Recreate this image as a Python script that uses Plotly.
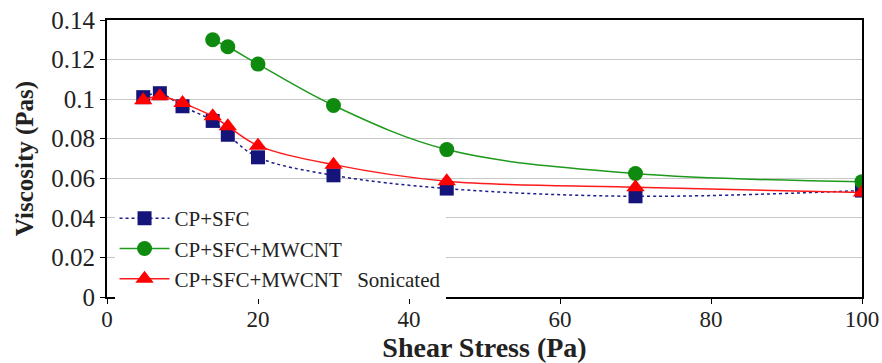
import plotly.graph_objects as go

# Shear stress (Pa) at each measurement
stress_cp = [4.8, 7, 10, 14, 16, 20, 30, 45, 70, 100]
stress_mw = [14, 16, 20, 30, 45, 70, 100]
stress_son = [4.8, 7, 10, 14, 16, 20, 30, 45, 70, 100]

# Viscosity (Pa·s)
visc_cp = [0.101, 0.103, 0.0964, 0.089, 0.082, 0.0706, 0.0615, 0.0548, 0.0509, 0.0538]
visc_mw = [0.130, 0.1265, 0.1177, 0.0968, 0.0745, 0.0624, 0.0583]
visc_son = [0.0995, 0.1015, 0.098, 0.0913, 0.0863, 0.0765, 0.0669, 0.0585, 0.0555, 0.0528]

y_ticks = [0, 0.02, 0.04, 0.06, 0.08, 0.1, 0.12, 0.14]
y_tick_text = ["0", "0.02", "0.04", "0.06", "0.08", "0.1", "0.12", "0.14"]
x_ticks = [0, 20, 40, 60, 80, 100]

SERIF = "Liberation Serif"
INK = "#222222"

fig = go.Figure()
fig.add_trace(go.Scatter(
    x=stress_cp, y=visc_cp, name="CP+SFC", mode="lines+markers",
    line=dict(color="#1c1c8c", width=1.5, dash="dot", shape="spline"),
    marker=dict(symbol="square", size=14, color="#14147a"),
))
fig.add_trace(go.Scatter(
    x=stress_mw, y=visc_mw, name="CP+SFC+MWCNT", mode="lines+markers",
    line=dict(color="#1e9a1e", width=1.5, shape="spline"),
    marker=dict(symbol="circle", size=15, color="#0e8a0e"),
))
fig.add_trace(go.Scatter(
    x=stress_son, y=visc_son, name="CP+SFC+MWCNT   Sonicated", mode="lines+markers",
    line=dict(color="#ff1a1a", width=1.5, shape="spline"),
    marker=dict(symbol="triangle-up", size=16, color="#ff0000"),
))

fig.update_layout(
    width=882, height=363,
    margin=dict(l=107, r=20, t=20, b=66, autoexpand=False),
    paper_bgcolor="white", plot_bgcolor="white",
    font=dict(family=SERIF, size=22, color=INK),
    legend=dict(
        x=0.01, y=0.357, xanchor="left", yanchor="top",
        bgcolor="white", borderwidth=0,
        font=dict(family=SERIF, size=21, color=INK),
        tracegroupgap=0, itemwidth=50,
    ),
    showlegend=True,
)
fig.update_xaxes(
    range=[0, 100], tickvals=x_ticks, showgrid=False, zeroline=False,
    showline=True, linecolor="black", linewidth=2, mirror=True,
    ticks="outside", ticklen=5, tickcolor="black", ticklabelstandoff=-5,
    tickfont=dict(family=SERIF, size=23, color=INK),
    title=dict(text="<b>Shear Stress (Pa)</b>", font=dict(family=SERIF, size=28, color=INK), standoff=4),
)
fig.update_yaxes(
    range=[0, 0.14], tickvals=y_ticks, ticktext=y_tick_text,
    showgrid=True, gridcolor="#c8c8c8", gridwidth=1, zeroline=False,
    showline=True, linecolor="black", linewidth=2, mirror=True,
    ticks="outside", ticklen=5, tickcolor="black",
    tickfont=dict(family=SERIF, size=25, color=INK),
    title=dict(text="<b>Viscosity (Pas)</b>", font=dict(family=SERIF, size=25, color=INK), standoff=11),
)

fig.write_html("out.html")
